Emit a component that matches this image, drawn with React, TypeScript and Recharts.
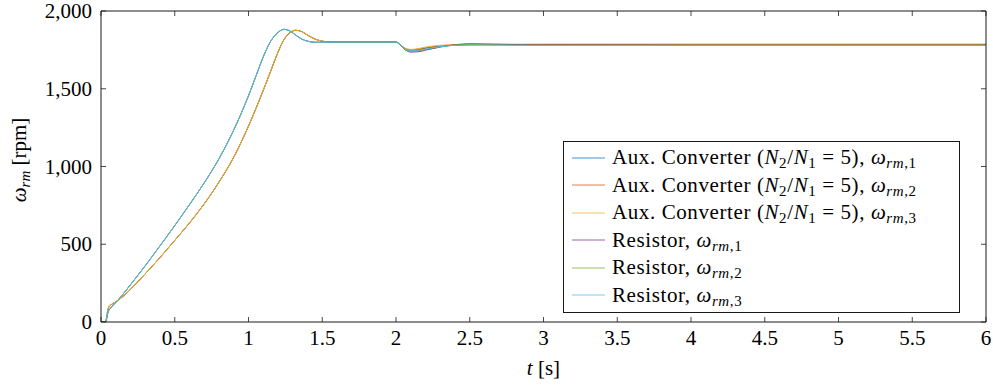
import React from 'react';
import { LineChart, Line, XAxis, YAxis } from 'recharts';

const FONT = '"Liberation Serif", "Times New Roman", serif';

// time grid [s]
const TIME = [
  0, 0.03, 0.05, 0.07, 0.1, 0.15, 0.2, 0.3, 0.4, 0.5, 0.6, 0.7, 0.8, 0.9, 1.0,
  1.05, 1.1, 1.15, 1.2, 1.24, 1.28, 1.32, 1.36, 1.4, 1.45, 1.5, 1.55, 1.6, 1.8, 2.0,
  2.03, 2.06, 2.1, 2.15, 2.2, 2.3, 2.4, 2.5, 2.7, 3.0, 4.0, 5.0, 6.0,
];

// run-up (t = 0 ... 2.0 s), identical for the three machines of each case
const AUX_RUNUP = [
  0, 0, 90, 112, 130, 165, 210, 310, 415, 525, 637, 760, 900, 1060, 1260,
  1372, 1490, 1612, 1735, 1815, 1860, 1876, 1868, 1845, 1820, 1806, 1801, 1800, 1800, 1800,
];
const RES_RUNUP = [
  0, 0, 70, 95, 125, 180, 240, 362, 490, 620, 755, 895, 1050, 1235, 1455,
  1580, 1705, 1805, 1862, 1882, 1872, 1845, 1820, 1806, 1799, 1799, 1800, 1800, 1800, 1800,
];

// load step at t = 2 s (t = 2.03 ... 6 s)
const AUX1_STEP = [1782, 1758, 1748, 1751, 1760, 1773, 1780, 1783, 1784, 1785, 1785, 1785, 1785];
const AUX2_STEP = [1783, 1760, 1750, 1754, 1763, 1776, 1782, 1784, 1785, 1785, 1785, 1785, 1785];
const AUX3_STEP = [1784, 1762, 1753, 1758, 1768, 1779, 1784, 1786, 1786, 1786, 1786, 1786, 1786];
const RES1_STEP = [1780, 1752, 1736, 1738, 1748, 1768, 1783, 1789, 1786, 1782, 1781, 1781, 1781];
const RES2_STEP = [1781, 1754, 1740, 1743, 1752, 1770, 1781, 1784, 1782, 1780, 1780, 1780, 1780];
const RES3_STEP = [1782, 1756, 1744, 1747, 1756, 1771, 1779, 1781, 1780, 1778, 1778, 1778, 1778];

const X_TICKS = [0, 0.5, 1, 1.5, 2, 2.5, 3, 3.5, 4, 4.5, 5, 5.5, 6];
const Y_TICKS = [0, 500, 1000, 1500, 2000];

const SERIES = [
  { key: 'aux1', kind: 'aux', idx: '1', color: '#0072BD', values: AUX_RUNUP.concat(AUX1_STEP) },
  { key: 'aux2', kind: 'aux', idx: '2', color: '#D95319', values: AUX_RUNUP.concat(AUX2_STEP) },
  { key: 'aux3', kind: 'aux', idx: '3', color: '#EDB120', values: AUX_RUNUP.concat(AUX3_STEP) },
  { key: 'res1', kind: 'res', idx: '1', color: '#7E2F8E', values: RES_RUNUP.concat(RES1_STEP) },
  { key: 'res2', kind: 'res', idx: '2', color: '#77AC30', values: RES_RUNUP.concat(RES2_STEP) },
  { key: 'res3', kind: 'res', idx: '3', color: '#4DBEEE', values: RES_RUNUP.concat(RES3_STEP) },
];

const data = TIME.map((t, i) => {
  const row: Record<string, number> = { t };
  SERIES.forEach((s) => {
    row[s.key] = s.values[i];
  });
  return row;
});

const AXIS = '#1a1a1a';
const FS = 21;

const BottomTick = (p: any) => (
  <g>
    <line x1={p.x} x2={p.x} y1={p.y} y2={p.y - 5} stroke={AXIS} strokeWidth={0.8} />
    <text x={p.x} y={p.y + 23} textAnchor="middle" fontSize={FS} fontFamily={FONT} fill="#000">
      {String(p.payload.value)}
    </text>
  </g>
);
const TopTick = (p: any) => (
  <line x1={p.x} x2={p.x} y1={p.y} y2={p.y + 5} stroke={AXIS} strokeWidth={0.8} />
);
const LeftTick = (p: any) => (
  <g>
    <line x1={p.x} x2={p.x + 5} y1={p.y} y2={p.y} stroke={AXIS} strokeWidth={0.8} />
    <text x={p.x - 9} y={p.y + 7} textAnchor="end" fontSize={FS} fontFamily={FONT} fill="#000">
      {Number(p.payload.value).toLocaleString('en-US')}
    </text>
  </g>
);
const RightTick = (p: any) => (
  <line x1={p.x} x2={p.x - 5} y1={p.y} y2={p.y} stroke={AXIS} strokeWidth={0.8} />
);

const XLabel = (p: any) => {
  const vb = p.viewBox || {};
  return (
    <text x={vb.x + vb.width / 2} y={322 + 53} textAnchor="middle" fontSize={FS} fontFamily={FONT} fill="#000">
      <tspan fontStyle="italic">t</tspan>
      <tspan> [s]</tspan>
    </text>
  );
};
const YLabel = (p: any) => {
  const cx = 26;
  const cy = 160;
  return (
    <text
      x={cx}
      y={cy}
      transform={`rotate(-90 ${cx} ${cy})`}
      textAnchor="middle"
      fontSize={FS}
      fontFamily={FONT}
      fill="#000"
    >
      <tspan fontStyle="italic">ω</tspan>
      <tspan fontStyle="italic" fontSize={15} dy={4}>rm</tspan>
      <tspan dy={-4}> [rpm]</tspan>
    </text>
  );
};

const subStyle: React.CSSProperties = { fontSize: 15, position: 'relative', top: 4, lineHeight: 0 };

const LegendLabel = ({ kind, idx }: { kind: string; idx: string }) => (
  <span>
    {kind === 'aux' ? (
      <>
        Aux. Converter (<i>N</i>
        <span style={subStyle}>2</span>/<i>N</i>
        <span style={subStyle}>1</span> = 5),{' '}
      </>
    ) : (
      <>Resistor, </>
    )}
    <i>ω</i>
    <span style={subStyle}>
      <i>rm</i>,{idx}
    </span>
  </span>
);

export default function App() {
  return (
    <div style={{ position: 'absolute', left: 0, top: 0, width: 993, height: 387, background: '#fff' }}>
      <LineChart width={993} height={387} data={data} margin={{ top: 10, right: 6, bottom: 35, left: 41 }}>
        <XAxis
          dataKey="t"
          type="number"
          domain={[0, 6]}
          ticks={X_TICKS}
          height={30}
          tickSize={0}
          tickMargin={0}
          tickLine={false}
          tick={BottomTick}
          axisLine={{ stroke: AXIS, strokeWidth: 1 }}
          allowDataOverflow
          label={<XLabel />}
        />
        <XAxis
          xAxisId="top"
          orientation="top"
          dataKey="t"
          type="number"
          domain={[0, 6]}
          ticks={X_TICKS}
          height={1}
          tickSize={0}
          tickMargin={0}
          tickLine={false}
          tick={TopTick}
          axisLine={{ stroke: AXIS, strokeWidth: 1 }}
          allowDataOverflow
        />
        <YAxis
          type="number"
          domain={[0, 2000]}
          ticks={Y_TICKS}
          width={60}
          tickSize={0}
          tickMargin={0}
          tickLine={false}
          tick={LeftTick}
          axisLine={{ stroke: AXIS, strokeWidth: 1 }}
          allowDataOverflow
          label={<YLabel />}
        />
        <YAxis
          yAxisId="right"
          orientation="right"
          type="number"
          domain={[0, 2000]}
          ticks={Y_TICKS}
          width={1}
          tickSize={0}
          tickMargin={0}
          tickLine={false}
          tick={RightTick}
          axisLine={{ stroke: AXIS, strokeWidth: 1 }}
          allowDataOverflow
        />
        {SERIES.map((s) => (
          <Line
            key={s.key}
            dataKey={s.key}
            type="monotone"
            stroke={s.color}
            strokeWidth={1}
            dot={false}
            activeDot={false}
            isAnimationActive={false}
          />
        ))}
      </LineChart>
      <div
        style={{
          position: 'absolute',
          left: 563,
          top: 141,
          width: 397,
          height: 172,
          border: '1px solid #1a1a1a',
          background: '#fff',
          boxSizing: 'border-box',
          fontFamily: FONT,
          fontSize: FS,
          letterSpacing: 0.6,
          paddingTop: 2,
        }}
      >
        {SERIES.map((s) => (
          <div key={s.key} style={{ height: 27.5, display: 'flex', alignItems: 'center', whiteSpace: 'nowrap' }}>
            <svg width={48} height={10} style={{ flex: 'none' }}>
              <line x1={8} x2={41} y1={5} y2={5} stroke={s.color} strokeWidth={1} strokeOpacity={0.75} />
            </svg>
            <LegendLabel kind={s.kind} idx={s.idx} />
          </div>
        ))}
      </div>
    </div>
  );
}
